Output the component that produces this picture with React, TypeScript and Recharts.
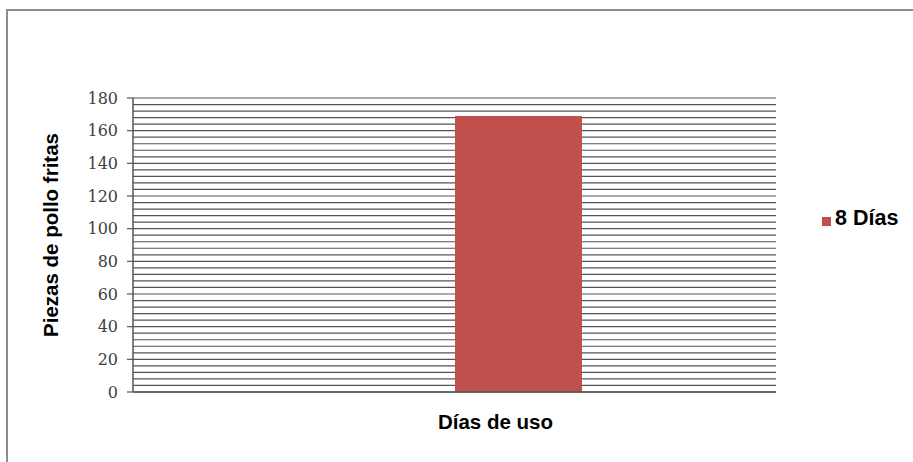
import { BarChart, Bar, XAxis, YAxis, CartesianGrid, Legend, Label } from "recharts";

// one category, two series: the earlier series has no value, the 8-day one sits right of centre
const CATEGORIES = [""];
const PREVIOUS = [null];
const OCHO_DIAS = [169];

const Y_TICKS = [0, 20, 40, 60, 80, 100, 120, 140, 160, 180];
const GRID_STEP = 4;
const Y_MAX = 180;

const BAR_COLOR = "#C0504D";
const LINE_COLOR = "#555555";
const SANS = "'Liberation Sans', Arial, sans-serif";

const data = CATEGORIES.map((cat, i) => ({
  cat,
  prev: PREVIOUS[i],
  ocho: OCHO_DIAS[i],
}));

const gridValues: number[] = [];
for (let v = 0; v <= Y_MAX; v += GRID_STEP) gridValues.push(v);

// minor grid every 4 units, mapped through the y scale (or the plot box when no scale is passed)
function gridCoords({ yAxis, offset }: any) {
  return gridValues.map((v) => {
    if (yAxis && typeof yAxis.scale === "function") return yAxis.scale(v);
    return offset.top + offset.height * (1 - v / Y_MAX);
  });
}

function YTitle({ viewBox }: any) {
  const cx = viewBox.x + 50;
  const cy = viewBox.y + viewBox.height / 2 - 10;
  return (
    <text
      x={cx}
      y={cy}
      transform={`rotate(-90 ${cx} ${cy})`}
      textAnchor="middle"
      dominantBaseline="central"
      fontFamily={SANS}
      fontWeight="bold"
      fontSize={20.5}
      fill="#000"
    >
      Piezas de pollo fritas
    </text>
  );
}

export default function App() {
  return (
    <div
      style={{
        position: "absolute",
        left: 0,
        top: 0,
        width: 913,
        height: 462,
        overflow: "hidden",
        background: "#fff",
      }}
    >
      <div
        style={{
          position: "absolute",
          left: 6,
          top: 9,
          width: 940,
          height: 480,
          borderLeft: "2px solid #8c8c8c",
          borderTop: "2px solid #8c8c8c",
        }}
      />
      <div style={{ position: "absolute", left: 0, top: 0 }}>
        <BarChart
          width={913}
          height={462}
          data={data}
          margin={{ top: 98, right: 137, bottom: 0, left: 0 }}
          barGap={0}
          barSize={127}
        >
          <CartesianGrid
            vertical={false}
            stroke={LINE_COLOR}
            strokeWidth={1.2}
            horizontalCoordinatesGenerator={gridCoords}
          />
          <XAxis
            dataKey="cat"
            height={70}
            tick={false}
            tickLine={false}
            axisLine={{ stroke: LINE_COLOR, strokeWidth: 1.5 }}
            label={{
              value: "Días de uso",
              position: "insideTop",
              offset: 22,
              dx: 41,
              fontFamily: SANS,
              fontWeight: "bold",
              fontSize: 20.5,
              fill: "#000",
            }}
          />
          <YAxis
            type="number"
            width={133}
            domain={[0, Y_MAX]}
            ticks={Y_TICKS}
            interval={0}
            tickSize={6}
            tickMargin={9}
            axisLine={{ stroke: LINE_COLOR, strokeWidth: 1.5 }}
            tickLine={{ stroke: LINE_COLOR, strokeWidth: 1.2 }}
            tick={{ fontFamily: "'DejaVu Serif', serif", fontSize: 16, fill: "#404040" }}
          >
            <Label content={<YTitle />} />
          </YAxis>
          <Legend
            layout="vertical"
            align="center"
            verticalAlign="middle"
            iconType="square"
            iconSize={9}
            wrapperStyle={{ left: 822, top: 206, width: "auto" }}
            formatter={(value) => (
              <span
                style={{
                  color: "#000",
                  fontFamily: SANS,
                  fontWeight: "bold",
                  fontSize: 21.5,
                }}
              >
                {value}
              </span>
            )}
          />
          <Bar dataKey="prev" legendType="none" fill={BAR_COLOR} isAnimationActive={false} />
          <Bar dataKey="ocho" name="8 Días" fill={BAR_COLOR} isAnimationActive={false} />
        </BarChart>
      </div>
    </div>
  );
}
